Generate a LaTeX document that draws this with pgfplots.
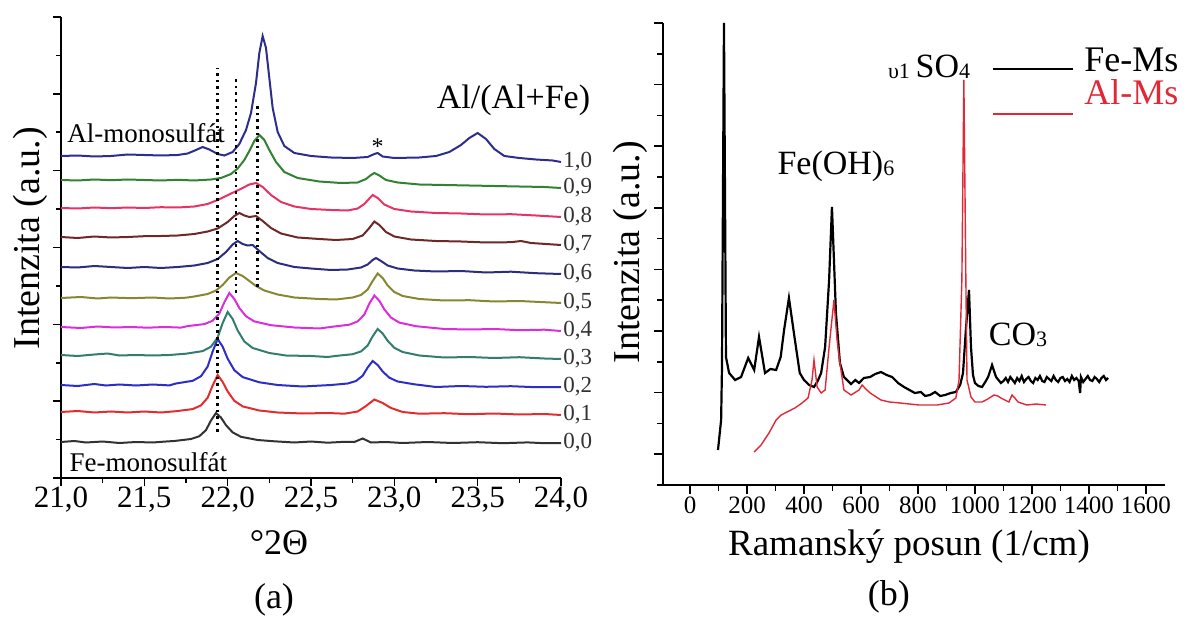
\documentclass[border=0pt]{standalone}
\usepackage{pgfplots}
\pgfplotsset{compat=1.18}
\usepackage{fontspec}
\setmainfont{Liberation Serif}
\definecolor{c00}{RGB}{50,50,50}
\definecolor{c01}{RGB}{225,45,45}
\definecolor{c02}{RGB}{45,45,200}
\definecolor{c03}{RGB}{50,125,110}
\definecolor{c04}{RGB}{220,45,220}
\definecolor{c05}{RGB}{135,135,50}
\definecolor{c06}{RGB}{45,45,125}
\definecolor{c07}{RGB}{110,40,40}
\definecolor{c08}{RGB}{230,50,100}
\definecolor{c09}{RGB}{50,130,50}
\definecolor{c10}{RGB}{45,45,140}
\definecolor{alred}{RGB}{225,40,55}
\newcommand{\sm}[1]{\raisebox{-0.5pt}{\fontsize{11}{11}\selectfont #1}}
\begin{document}
\begin{tikzpicture}
\useasboundingbox (0,0) rectangle (594pt,308pt);
% ---------------- panel (a) ----------------
\begin{axis}[
  at={(30.5pt,69pt)}, anchor=south west, scale only axis,
  width=250pt, height=230.5pt,
  xmin=21, xmax=24, ymin=0, ymax=461,
  axis lines=left, axis line style={-, line width=1pt},
  clip=false,
  xtick={21,21.5,22,22.5,23,23.5,24},
  xticklabels={{21,0},{21,5},{22,0},{22,5},{23,0},{23,5},{24,0}},
  minor x tick num=1,
  ytick={0,76.8,153.7,230.5,307.3,384.2,461},
  minor ytick={38.4,115.3,192.1,268.9,345.8,422.6},
  yticklabel={\relax},
  tick align=outside,
  major tick length=4pt, minor tick length=2.5pt,
  tick style={line width=0.8pt, black},
  x tick label style={font=\fontsize{15.5}{15.5}\selectfont, yshift=3pt},
  xlabel={°2Θ},
  xlabel style={at={(axis description cs:0.436,-0.141)}, anchor=center, font=\fontsize{18}{18}\selectfont},
  ylabel={Intenzita (a.u.)},
  ylabel style={at={(axis description cs:-0.062,0.52)}, anchor=center, font=\fontsize{19}{19}\selectfont},
  every axis plot/.append style={line width=1pt},
]
% 0,0
\addplot[c00] coordinates {(21.00,36) (21.08,37) (21.15,35.5) (21.25,36.5) (21.35,35) (21.45,36) (21.55,35.5) (21.63,36.5) (21.68,37) (21.78,39) (21.83,41.8) (21.87,47.9) (21.90,57.5) (21.93,65) (21.96,60.4) (21.99,52.8) (22.03,45.6) (22.08,41.2) (22.18,38) (22.28,36.7) (22.40,35.5) (22.50,36.5) (22.60,35.3) (22.70,36.2) (22.76,36) (22.81,39.5) (22.86,35.5) (22.95,36) (23.05,35) (23.20,36) (23.35,35) (23.50,35.8) (23.65,34.8) (23.80,35.6) (23.90,34.8) (24.00,35)};
% 0,1
\addplot[c01] coordinates {(21.00,66) (21.10,67) (21.20,65.5) (21.30,66.5) (21.40,65.5) (21.50,66.5) (21.60,65.5) (21.69,66.8) (21.79,68.9) (21.84,72.6) (21.88,80.3) (21.91,92.5) (21.94,103) (21.97,96.1) (22.00,86.5) (22.04,77.2) (22.09,71.6) (22.19,67.5) (22.30,65.5) (22.45,64.5) (22.60,65) (22.70,64.3) (22.78,66.5) (22.83,72) (22.88,78.5) (22.93,75) (22.98,70) (23.05,66) (23.15,64.3) (23.30,64.8) (23.45,63.8) (23.60,64.5) (23.75,63.5) (23.90,64) (24.00,63)};
% 0,2
\addplot[c02] coordinates {(21.00,93) (21.10,92) (21.20,94) (21.27,92.5) (21.35,93.5) (21.45,92.5) (21.55,93.5) (21.65,92.6) (21.69,94.5) (21.79,97.2) (21.84,101.8) (21.88,111.5) (21.91,126.6) (21.94,139) (21.97,131.3) (22.00,119.3) (22.04,107.8) (22.09,100.9) (22.19,95.7) (22.30,93) (22.45,91.5) (22.62,93) (22.72,94.5) (22.77,97) (22.81,102.3) (22.84,110.5) (22.87,117) (22.90,113) (22.93,106.5) (22.97,100.3) (23.02,96.5) (23.12,93.7) (23.25,91) (23.40,92) (23.55,91.2) (23.70,91.8) (23.85,90.8) (24.00,91)};
% 0,3
\addplot[c03] coordinates {(21.00,123) (21.10,122) (21.20,123.5) (21.28,124.5) (21.35,122.5) (21.45,123) (21.55,122.5) (21.65,123) (21.75,124.3) (21.85,126.9) (21.90,131.3) (21.94,140.5) (21.97,155) (22.00,166) (22.03,159) (22.06,147.5) (22.10,136.5) (22.15,130) (22.25,125) (22.35,122.5) (22.50,122) (22.60,121) (22.65,122.1) (22.75,123.8) (22.80,126.6) (22.84,132.5) (22.87,141.7) (22.90,149) (22.93,144.5) (22.96,137.2) (23.00,130.2) (23.05,126) (23.15,122.5) (23.30,120.5) (23.45,121) (23.60,120) (23.75,120.8) (23.90,119.5) (24.00,119)};
% 0,4
\addplot[c04] coordinates {(21.00,151) (21.12,150) (21.22,151.5) (21.32,150.5) (21.42,151) (21.52,150.3) (21.62,151) (21.72,150.4) (21.76,151.9) (21.86,153.9) (21.91,157.3) (21.95,164.4) (21.98,175.7) (22.01,185) (22.04,179) (22.07,170) (22.11,161.7) (22.16,156.6) (22.26,152.8) (22.40,150.5) (22.55,149.5) (22.63,151.3) (22.73,153.3) (22.78,156.6) (22.82,163.5) (22.85,174.4) (22.88,182.5) (22.91,177.2) (22.94,168.6) (22.98,160.4) (23.03,155.4) (23.13,151.8) (23.30,149) (23.45,148.5) (23.60,149) (23.75,147.8) (23.90,148.3) (24.00,147)};
% 0,5
\addplot[c05] coordinates {(21.00,180) (21.12,181) (21.22,179.5) (21.30,180.5) (21.42,179.8) (21.55,180.5) (21.65,179.5) (21.75,180.3) (21.80,181.5) (21.88,184) (21.93,187.5) (21.97,193) (22.01,200.5) (22.05,205) (22.09,202) (22.13,197) (22.17,192) (22.22,187.5) (22.30,183.5) (22.40,180.5) (22.55,179) (22.65,178.5) (22.75,180.5) (22.80,183) (22.84,188.5) (22.87,197) (22.90,204.5) (22.93,200) (22.96,192.5) (23.00,186) (23.05,182) (23.15,179) (23.30,177.5) (23.45,177.8) (23.60,176.5) (23.75,177) (23.90,175.8) (24.00,175)};
% 0,6
\addplot[c06] coordinates {(21.00,211) (21.10,210.5) (21.20,212) (21.30,211) (21.40,210) (21.50,211) (21.60,210) (21.70,211) (21.80,212.5) (21.88,215) (21.94,219) (21.99,226) (22.03,233.5) (22.06,237) (22.09,234) (22.12,232.5) (22.15,233) (22.19,227) (22.24,220) (22.30,215) (22.40,211) (22.50,209.5) (22.62,208) (22.72,208.5) (22.80,210.5) (22.84,213.5) (22.87,218) (22.89,220) (22.92,217) (22.96,212.5) (23.02,209.5) (23.12,207.5) (23.25,206.5) (23.40,207) (23.55,205.5) (23.70,206.3) (23.85,204.8) (24.00,204)};
% 0,7
\addplot[c07] coordinates {(21.00,241) (21.10,240) (21.20,241.5) (21.30,240.5) (21.40,241) (21.50,241.8) (21.60,242) (21.70,242.5) (21.80,244) (21.88,246.5) (21.94,249.5) (22.00,256) (22.04,262) (22.07,265) (22.10,262.5) (22.13,261) (22.17,262) (22.21,257) (22.26,250) (22.32,244.5) (22.42,240.5) (22.55,239) (22.65,238) (22.75,239) (22.81,242.5) (22.85,250) (22.88,256.5) (22.91,253) (22.95,246) (23.00,241.5) (23.10,238.5) (23.25,237) (23.40,236.5) (23.55,235.5) (23.70,235.8) (23.76,237) (23.82,235) (24.00,233)};
% 0,8
\addplot[c08] coordinates {(21.00,270) (21.10,269.5) (21.20,270.5) (21.30,269.8) (21.40,270.5) (21.50,270) (21.60,270.8) (21.70,270.5) (21.80,271.5) (21.88,274) (21.94,278) (21.99,282) (22.04,286) (22.09,290) (22.13,293.5) (22.17,295) (22.21,291) (22.26,283) (22.32,276) (22.40,271.5) (22.50,269) (22.62,268) (22.72,267.5) (22.78,269.5) (22.82,274) (22.85,279.5) (22.87,283) (22.90,280) (22.94,273.5) (23.00,269) (23.10,266.5) (23.25,265) (23.40,264.5) (23.55,263.5) (23.70,263.8) (23.85,262.5) (24.00,261)};
% 0,9
\addplot[c09] coordinates {(21.00,298) (21.10,297.5) (21.20,298.5) (21.30,297.8) (21.40,298.5) (21.50,298) (21.60,297.5) (21.70,298.2) (21.80,297.5) (21.90,298.5) (21.96,300) (22.02,304) (22.06,309.5) (22.10,318) (22.13,327) (22.16,337) (22.19,343) (22.22,338) (22.25,328) (22.29,316) (22.34,306) (22.42,300) (22.55,296.5) (22.68,295) (22.78,295.5) (22.83,299) (22.86,303) (22.88,305) (22.91,302.5) (22.95,298) (23.02,295.5) (23.15,293.5) (23.30,293) (23.45,292.5) (23.60,292) (23.75,291.5) (23.90,291) (24.00,290)};
% 1,0
\addplot[c10] coordinates {(21.00,322) (21.10,322.5) (21.20,321.5) (21.30,322) (21.40,323.5) (21.50,323) (21.60,322.5) (21.70,323) (21.76,324.5) (21.81,328) (21.85,331) (21.89,328.5) (21.94,324) (21.98,322.5) (22.03,326) (22.07,334) (22.11,348) (22.14,365) (22.17,395) (22.19,425) (22.21,442) (22.23,430) (22.25,400) (22.27,370) (22.30,346) (22.34,332) (22.40,325) (22.50,322) (22.62,320.5) (22.75,320) (22.84,321) (22.88,324) (22.90,325) (22.93,321.5) (23.00,320) (23.15,320.5) (23.25,322) (23.33,326) (23.40,333) (23.45,340) (23.50,345) (23.55,339) (23.60,329) (23.66,322) (23.75,320) (23.85,318.5) (23.95,317.5) (24.00,316)};
% dotted guides
\addplot[black, line width=1.3pt, dash pattern=on 1.3pt off 2pt] coordinates {(21.94,46) (21.94,410)};
\addplot[black, line width=1.3pt, dash pattern=on 1.3pt off 2pt] coordinates {(22.05,185) (22.05,400)};
\addplot[black, line width=1.3pt, dash pattern=on 1.3pt off 2pt] coordinates {(22.18,191) (22.18,375)};
% annotations
\node[font=\fontsize{12}{12}\selectfont] at (axis cs:22.9,331) {*};
\node[anchor=west, inner sep=0pt, font=\fontsize{13.5}{13.5}\selectfont] at (axis cs:21.036,345) {Al-monosulfát};
\node[anchor=west, inner sep=0pt, font=\fontsize{13.5}{13.5}\selectfont] at (axis cs:21.05,16) {Fe-monosulfát};
\node[font=\fontsize{17}{17}\selectfont] at (axis cs:23.715,378) {Al/(Al+Fe)};
\begin{scope}[every node/.style={anchor=west, inner sep=1pt, text=c00, font=\fontsize{11.5}{11.5}\selectfont}]
\node at (axis cs:24,316) {1,0};
\node at (axis cs:24,290) {0,9};
\node at (axis cs:24,261) {0,8};
\node at (axis cs:24,233) {0,7};
\node at (axis cs:24,204) {0,6};
\node at (axis cs:24,175) {0,5};
\node at (axis cs:24,147) {0,4};
\node at (axis cs:24,119) {0,3};
\node at (axis cs:24,91) {0,2};
\node at (axis cs:24,63) {0,1};
\node at (axis cs:24,35) {0,0};
\end{scope}
\node[font=\fontsize{18}{18}\selectfont] at (axis description cs:0.426,-0.265) {(a)};
\end{axis}
% ---------------- panel (b) ----------------
\begin{axis}[
  at={(331.5pt,65.5pt)}, anchor=south west, scale only axis,
  width=251pt, height=231pt,
  xmin=-95, xmax=1667, ymin=0, ymax=462,
  axis lines=left, axis line style={-, line width=1pt},
  clip=false,
  xtick={0,200,...,1600}, minor x tick num=1,
  ytick={30.8,92.4,154,215.6,277.2,338.8,400.4,462},
  minor ytick={0,61.6,123.2,184.8,246.4,308,369.6,431.2},
  yticklabel={\relax},
  tick align=outside,
  major tick length=4.5pt, minor tick length=3pt,
  tick style={line width=0.8pt, black},
  x tick label style={font=\fontsize{12.5}{12.5}\selectfont, yshift=2pt, /pgf/number format/set thousands separator={}, /pgf/number format/assume math mode=true},
  xlabel={Ramanský posun (1/cm)},
  xlabel style={at={(axis description cs:0.49,-0.134)}, anchor=center, font=\fontsize{18.5}{18.5}\selectfont},
  ylabel={Intenzita (a.u.)},
  ylabel style={at={(axis description cs:-0.066,0.504)}, anchor=center, font=\fontsize{19}{19}\selectfont},
  legend style={draw=none, fill=none, inner sep=0pt, row sep=0.5pt, column sep=4pt,
    at={(axis cs:1060,439)}, anchor=north west, cells={anchor=west},
    nodes={inner sep=1pt}, font=\fontsize{18}{18}\selectfont},
]
\addplot[black, line width=1.1pt, legend image code/.code={\draw[line width=1pt] (0pt,-3.5pt) -- (40pt,-3.5pt);}] coordinates {
(98,35) (109,65) (112,118) (119,462) (126,128) (137,112) (158,105) (179,108) (204,127) (225,115) (242,148) (263,112) (282,116) (302,115) (318,128) (330,155) (347,187) (368,145) (385,112) (400,105) (418,100) (435,98) (448,104) (460,112) (474,138) (488,205) (498,278) (512,172) (526,122) (540,108) (551,105) (565,101) (580,105) (593,102) (610,107) (632,108) (650,111) (670,113) (690,110) (709,108) (730,102) (751,98) (770,95) (789,92) (810,93) (825,89) (842,90) (860,93) (878,89) (895,90) (915,92) (933,93) (948,100) (958,112) (968,155) (979,195) (986,138) (993,110) (1000,102) (1012,99) (1025,98) (1036,103) (1046,108) (1060,120) (1074,108) (1091,102)
(1100,104) (1108,107) (1116,103) (1124,108) (1132,105) (1140,102) (1148,107) (1156,104) (1164,109) (1172,103) (1180,106) (1188,108) (1196,104) (1204,102) (1212,107) (1220,105) (1228,109) (1236,104) (1244,103) (1252,108) (1260,106) (1268,104) (1276,109) (1284,105) (1292,103) (1300,107) (1308,108) (1316,104) (1324,106) (1332,103) (1340,109) (1348,105) (1356,107) (1364,104) (1369,92) (1372,108) (1380,103) (1388,106) (1396,109) (1404,105) (1412,104) (1420,108) (1428,106) (1436,103) (1444,107) (1452,109) (1460,105) (1467,107)};
\addlegendentry{Fe-Ms}
\addplot[alred, line width=0.7pt, legend image code/.code={\draw[line width=0.8pt] (0pt,-10pt) -- (40pt,-10pt);}] coordinates {
(225,33) (249,40) (277,52) (302,65) (320,70) (340,73) (368,77) (393,82) (414,87) (428,105) (435,125) (446,98) (460,92) (474,95) (488,138) (505,185) (516,145) (526,122) (540,95) (565,90) (593,95) (604,100) (617,96) (632,92) (670,85) (700,83) (737,82) (770,81) (804,80) (840,80) (867,80) (909,82) (933,87) (944,105) (954,205) (961,405) (968,205) (972,105) (986,88) (1000,83) (1025,83) (1045,86) (1067,90) (1080,89) (1091,87) (1119,83) (1130,90) (1140,87) (1151,83) (1182,80) (1215,81) (1249,80)};
\addlegendentry{\textcolor{alred}{Al-Ms}}
\node[font=\fontsize{17}{17}\selectfont] at (axis cs:839,418) {\sm{υ1}\,SO\sm{4}};
\node[font=\fontsize{17}{17}\selectfont] at (axis cs:512,319) {Fe(OH)\sm{6}};
\node[font=\fontsize{17}{17}\selectfont] at (axis cs:1151,150) {CO\sm{3}};
\node[font=\fontsize{18}{18}\selectfont] at (axis description cs:0.45,-0.242) {(b)};
\end{axis}
\end{tikzpicture}
\end{document}
